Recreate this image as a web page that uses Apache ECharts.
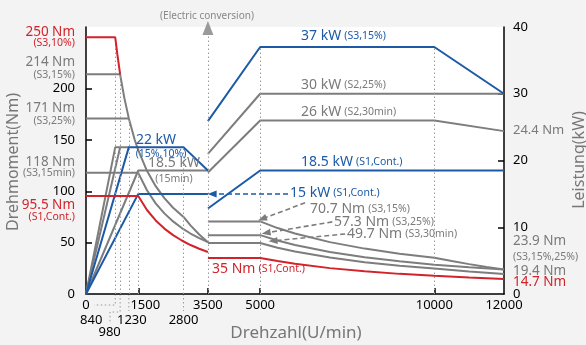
<!DOCTYPE html>
<html><head><meta charset="utf-8">
<script src="https://cdn.jsdelivr.net/npm/echarts@6/dist/echarts.min.js"></script>
<style>html,body{margin:0;padding:0;background:#f3f3f3}#c{width:586px;height:345px}</style>
</head><body><div id="c"></div>
<script>
// ---------- data ----------
const rpmTicks   = [0, 840, 980, 1230, 1500, 2800, 3500, 5000, 10000, 12000];
const rpmTickRow = [0, 1, 2, 1, 0, 1, 0, 0, 0, 0];
const torqueTicks = [0, 50, 100, 150, 200];
const powerTicks  = [0, 10, 20, 30, 40];

// torque curves (rpm, Nm)
const tS3_10     = [[0,250],[840,250],[900,233.4],[980,214]];
const tS3_15     = [[0,214],[980,214],[1000,210],[1100,191],[1230,171],[1400,150],[1500,140],[1750,120],[2000,105],[2250,93.4],[2500,84],[2800,75],[3000,66.8],[3250,58],[3500,50.5]];
const tS3_25     = [[0,171],[1230,171]];
const tS3_15min  = [[0,118],[1500,118],[1750,101],[2000,88.3],[2250,78.5],[2500,70.7],[2750,64.2],[3000,58.9],[3250,54.4],[3500,50.5]];
const tS1_low    = [[0,95.5],[1500,95.5],[1750,81.8],[2000,71.6],[2250,63.7],[2500,57.3],[2750,52.1],[3000,47.7],[3250,44.1],[3500,40.9]];
const tS3_15_hi  = [[3500,70.7],[5000,70.7],[5500,64.2],[6000,58.9],[7000,50.5],[8000,44.2],[9000,39.3],[10000,35.3],[10500,32.1],[11000,29.1],[11500,26.4],[12000,23.9]];
const tS3_25_hi  = [[3500,57.3],[5000,57.3],[5500,52.1],[6000,47.7],[7000,40.9],[8000,35.8],[9000,31.8],[10000,28.6],[11000,26.0],[12000,23.9]];
const tS3_30_hi  = [[3500,49.7],[5000,49.7],[5500,45.1],[6000,41.4],[7000,35.5],[8000,31.0],[9000,27.6],[10000,24.8],[11000,21.9],[12000,19.4]];
const tS1_hi     = [[3500,35],[5000,35],[5500,32.1],[6000,29.4],[7000,25.2],[8000,22.1],[9000,19.6],[10000,17.7],[11000,16.1],[12000,14.7]];
// power curves (rpm, kW)
const pS3_10     = [[0,0],[840,22],[1230,22]];
const pS3_15     = [[0,0],[980,22]];
const pS3_25     = [[0,0],[1230,22],[2800,22],[3500,18.5]];
const pS3_15min  = [[0,0],[1500,18.5],[3500,18.5]];
const pS1_low    = [[0,0],[1500,15],[3500,15]];
const pS3_15_hi  = [[3500,25.9],[5000,37],[10000,37],[12000,30]];
const pS2_25     = [[3500,21],[5000,30],[12000,30]];
const pS2_30     = [[3500,18.2],[5000,26],[10000,26],[12000,24.4]];
const pS1_hi     = [[3500,12.8],[5000,18.5],[12000,18.5]];
// dotted guides
const guideTorque = [[840,250],[980,214],[1230,171],[1500,118]];
const guidePower  = [[2800,22],[5000,37],[10000,37]];
const conversionRpm = 3500, conversionTop = 259;
// dashed label pointers: [fromRpm, fromVal, toRpm, toVal]
const pointerPower  = [[5800,15,3620,15]];
const pointerTorque = [[6290,88.8,5060,73.2],[7070,70.2,5170,59.5],[7440,58.5,5370,51.7]];

// ---------- style ----------
const RED='#d2232a', BLUE='#1c5aa6', GRAY='#7d7d7d', TXT='#7a7a7a';
const FONT='"Noto Sans", "Open Sans", sans-serif';

function line(data, color, yAxisIndex, z){
  return {type:'line', data, yAxisIndex, symbol:'none', silent:true, clip:false, z,
    lineStyle:{color, width:2}, itemStyle:{color}};
}
function guideLine(pts, yAxisIndex){
  return {type:'line', data:[], yAxisIndex, silent:true, z:1,
    markLine:{silent:true, symbol:'none', label:{show:false}, animation:false,
      lineStyle:{color:'#9a9a9a', type:[1.5,2.5], width:1},
      data: pts.map(p=>[{coord:[p[0],0]},{coord:[p[0],p[1]]}])}};
}
function pointer(arr, yAxisIndex, color){
  return {type:'line', data:[], yAxisIndex, silent:true, z:6,
    markLine:{silent:true, symbol:['none','triangle'], symbolSize:[7,9], label:{show:false}, animation:false,
      lineStyle:{color, type:[5,3], width:1.6},
      data: arr.map(p=>[{coord:[p[0],p[1]]},{coord:[p[2],p[3]]}])}};
}

const chart = echarts.init(document.getElementById('c'));
const option = {
  animation:false,
  backgroundColor:'#f3f3f3',
  textStyle:{fontFamily:FONT},
  grid:{left:86, right:82, top:27, bottom:51, show:true, backgroundColor:'#fff', borderWidth:0},
  xAxis:{type:'value', min:0, max:12000,
    axisLine:{lineStyle:{color:'#000', width:1.5}},
    axisTick:{inside:true, length:6, customValues:[1500,3500,5000,10000], lineStyle:{color:'#000', width:1.5}},
    axisLabel:{show:false}, splitLine:{show:false}},
  yAxis:[
    {type:'value', min:0, max:260, position:'left',
     axisLine:{show:true, lineStyle:{color:'#000', width:1.5}},
     axisTick:{show:true, inside:true, length:6, customValues:[50,100,150,200], lineStyle:{color:'#000', width:1.5}},
     axisLabel:{customValues:torqueTicks, margin:11, fontSize:13, color:'#000', fontFamily:FONT},
     splitLine:{show:false}},
    {type:'value', min:0, max:40, position:'right',
     axisLine:{show:true, lineStyle:{color:'#000', width:1.5}},
     axisTick:{show:true, inside:true, length:6, customValues:[10,20,30], lineStyle:{color:'#000', width:1.5}},
     axisLabel:{customValues:powerTicks, margin:9, fontSize:13, color:'#000', fontFamily:FONT},
     splitLine:{show:false}}
  ],
  series:[
    guideLine(guideTorque,0),
    guideLine(guidePower,1),
    {type:'line', data:[], yAxisIndex:0, silent:true, z:1,
     markLine:{silent:true, symbol:['none','triangle'], symbolSize:[11,14], label:{show:false}, animation:false,
       lineStyle:{color:'#9a9a9a', type:[1.5,2.5], width:1},
       data:[[{coord:[conversionRpm,0]},{coord:[conversionRpm,conversionTop]}]]}},
    line(tS3_15, GRAY,0,3), line(tS3_25, GRAY,0,3), line(tS3_15min, GRAY,0,3),
    line(tS3_15_hi, GRAY,0,3), line(tS3_25_hi, GRAY,0,3), line(tS3_30_hi, GRAY,0,3),
    line(pS3_10, GRAY,1,3), line(pS3_15, GRAY,1,3), line(pS3_15min, GRAY,1,3),
    line(pS2_25, GRAY,1,3), line(pS2_30, GRAY,1,3),
    line(pS3_25, BLUE,1,4), line(pS1_low, BLUE,1,4), line(pS3_15_hi, BLUE,1,4), line(pS1_hi, BLUE,1,4),
    line(tS3_10, RED,0,5), line(tS1_low, RED,0,5), line(tS1_hi, RED,0,5),
    pointer(pointerPower,1,BLUE),
    pointer(pointerTorque,0,GRAY)
  ]
};
chart.setOption(option);

// ---------- annotations ----------
function txt(x,y,text,color,size,align,extra){
  return Object.assign({type:'text', x, y, z:20, silent:true,
    style:{text, fill:color, fontSize:size, fontFamily:FONT, align:align||'left', verticalAlign:'middle'}}, extra||{});
}
function rich(x,y,big,small,color,align){
  return {type:'text', x, y, z:20, silent:true,
    style:{text:'{a|'+big+'} {b|'+small+'}', fill:color, fontFamily:FONT, align:align||'left', verticalAlign:'middle',
      rich:{a:{fontSize:14, fill:color, fontFamily:FONT}, b:{fontSize:10.5, fill:color, fontFamily:FONT}}}};
}
const px = v => chart.convertToPixel({xAxisIndex:0}, v);
const axisY = 294;
const rowY = [305, 320, 332];
const labelShift = {840:-24, 980:-10.5, 1230:3, 1500:7};
const g = [];
rpmTicks.forEach((v,i)=>{
  g.push(txt(px(v)+(labelShift[v]||0), rowY[rpmTickRow[i]], String(v), '#000', 13, 'center'));
});
// leader lines below axis
const dot = {stroke:'#9a9a9a', lineWidth:1, lineDash:[1.5,2.5], fill:null};
g.push({type:'polyline', silent:true, shape:{points:[[px(840),axisY],[px(840),305],[94,305]]}, style:dot});
g.push({type:'polyline', silent:true, shape:{points:[[px(980),axisY],[px(980),312],[110,312],[110,324]]}, style:dot});
g.push({type:'polyline', silent:true, shape:{points:[[px(1230),axisY],[px(1230),311]]}, style:dot});
g.push({type:'polyline', silent:true, shape:{points:[[px(2800),axisY],[px(2800),311]]}, style:dot});

// axis names
g.push(txt(13,162,'Drehmoment(Nm)','#777',16,'center',{rotation:Math.PI/2}));
g.push(txt(579,160,'Leistung(kW)','#777',16,'center',{rotation:Math.PI/2}));
g.push(txt(296,333,'Drehzahl(U/min)','#777',17,'center'));
g.push(txt(207,16,'(Electric conversion)','#888',10,'center'));

// left side labels
g.push(txt(75,32,'250 Nm',RED,13.5,'right'));   g.push(txt(75,43.5,'(S3,10%)',RED,10.5,'right'));
g.push(txt(75,62,'214 Nm',TXT,13.5,'right'));   g.push(txt(75,75,'(S3,15%)',TXT,10.5,'right'));
g.push(txt(75,108,'171 Nm',TXT,13.5,'right'));  g.push(txt(75,121,'(S3,25%)',TXT,10.5,'right'));
g.push(txt(75,162,'118 Nm',TXT,13.5,'right'));  g.push(txt(75,173.5,'(S3,15min)',TXT,10.5,'right'));
g.push(txt(75,205,'95.5 Nm',RED,13.5,'right')); g.push(txt(75,217,'(S1,Cont.)',RED,10.5,'right'));
// right side labels
g.push(txt(513,130,'24.4 Nm',TXT,13,'left'));
g.push(txt(513,241,'23.9 Nm',TXT,13.5,'left'));
g.push(txt(513,257,'(S3,15%,25%)',TXT,10.5,'left'));
g.push(txt(513,271,'19.4 Nm',TXT,13.5,'left'));
g.push(txt(513,282,'14.7 Nm',RED,13.5,'left'));
// inside labels
g.push(txt(156,140,'22 kW',BLUE,14,'center'));
g.push(txt(161,154.5,'(15%,10%)',BLUE,10.5,'center'));
g.push(txt(174,163,'18.5 kW',TXT,14,'center'));
g.push(txt(174,179,'(15min)',TXT,10.5,'center'));
g.push(rich(301,36,'37 kW','(S3,15%)',BLUE));
g.push(rich(301,85,'30 kW','(S2,25%)',TXT));
g.push(rich(301,112,'26 kW','(S2,30min)',TXT));
g.push(rich(301,162,'18.5 kW','(S1,Cont.)',BLUE));
g.push(rich(290,193,'15 kW','(S1,Cont.)',BLUE));
g.push(rich(310,209,'70.7 Nm','(S3,15%)',TXT));
g.push(rich(334,222,'57.3 Nm','(S3,25%)',TXT));
g.push(rich(347,234,'49.7 Nm','(S3,30min)',TXT));
g.push(rich(212,269,'35 Nm','(S1,Cont.)',RED));
chart.setOption({graphic:g});
</script></body></html>
